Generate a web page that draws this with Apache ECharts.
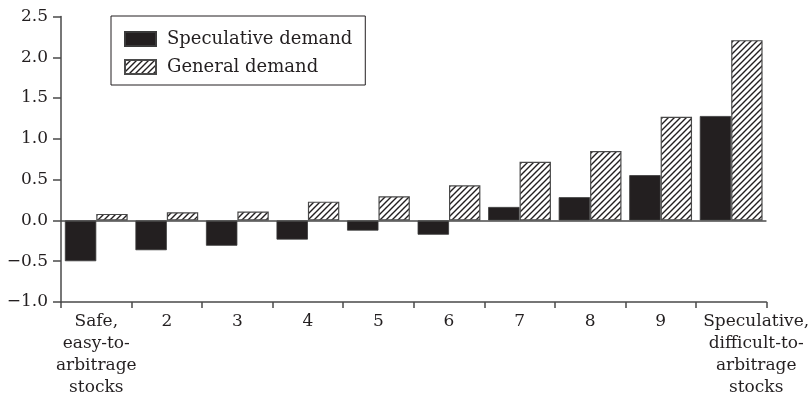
<!DOCTYPE html>
<html><head><meta charset="utf-8">
<script src="https://cdn.jsdelivr.net/npm/echarts@6/dist/echarts.min.js"></script>
<style>html,body{margin:0;padding:0;background:#fff}#c{width:812px;height:420px}</style>
</head><body><div id="c"></div>
<script>
const categories = ['Safe,\neasy-to-\narbitrage\nstocks', '2', '3', '4', '5', '6', '7', '8', '9', 'Speculative,\ndifficult-to-\narbitrage\nstocks'];
const speculativeDemand = [-0.50, -0.365, -0.31, -0.235, -0.125, -0.175, 0.165, 0.285, 0.555, 1.28];
const generalDemand = [0.08, 0.10, 0.11, 0.23, 0.295, 0.43, 0.72, 0.85, 1.27, 2.21];
const seriesNames = ['Speculative demand', 'General demand'];

const INK = '#231f20';
const AXIS = '#4a4a4a';
const FONT = 'DejaVu Serif';

function hatch() {
  const s = 6, c = document.createElement('canvas');
  c.width = s; c.height = s;
  const g = c.getContext('2d');
  g.fillStyle = '#fff'; g.fillRect(0, 0, s, s);
  g.strokeStyle = INK; g.lineWidth = 1.4;
  g.beginPath();
  g.moveTo(-1, s + 1); g.lineTo(s + 1, -1);
  g.moveTo(-1, 1); g.lineTo(1, -1);
  g.moveTo(s - 1, s + 1); g.lineTo(s + 1, s - 1);
  g.stroke();
  return { image: c, repeat: 'repeat' };
}

const xData = categories.map((c, i) => i === categories.length - 1
  ? { value: c, textStyle: { padding: [0, 0, 0, 50] } } : c);

const chart = echarts.init(document.getElementById('c'), null, { renderer: 'canvas' });
chart.setOption({
  animation: false,
  backgroundColor: '#fff',
  textStyle: { fontFamily: FONT, color: INK },
  grid: { left: 61, right: 42, top: 16.5, bottom: 118, containLabel: false },
  legend: {
    left: 111, top: 16, orient: 'vertical',
    borderColor: INK, borderWidth: 1, padding: [14, 13, 9, 13],
    itemWidth: 31, itemHeight: 14, itemGap: 10,
    icon: 'rect',
    textStyle: { fontFamily: FONT, fontSize: 18, color: INK, lineHeight: 18, padding: [0, 0, 0, 6] },
    data: seriesNames
  },
  xAxis: {
    type: 'category', data: xData,
    axisLine: { onZero: false, lineStyle: { color: AXIS, width: 1.5 } },
    axisTick: { show: true, length: 6, lineStyle: { color: AXIS, width: 1.5 } },
    axisLabel: { interval: 0, fontFamily: FONT, fontSize: 17, color: INK, lineHeight: 22, margin: 9 },
    splitLine: { show: false }
  },
  yAxis: {
    type: 'value', min: -1, max: 2.5, interval: 0.5,
    axisLine: { show: true, lineStyle: { color: AXIS, width: 1.5 } },
    axisTick: { show: true, length: 8, lineStyle: { color: AXIS, width: 1.5 } },
    axisLabel: { fontFamily: FONT, fontSize: 17, color: INK, margin: 13,
      formatter: v => v.toFixed(1).replace('-', '\u2212') },
    splitLine: { show: false }
  },
  series: [
    {
      name: seriesNames[0], type: 'bar', data: speculativeDemand,
      barGap: '0%', barCategoryGap: '11%',
      itemStyle: { color: INK, borderColor: '#3a3a3a', borderWidth: 0.8 },
      markLine: {
        silent: true, symbol: ['none', 'none'], label: { show: false },
        lineStyle: { color: AXIS, width: 1.5, type: 'solid' },
        data: [{ yAxis: 0 }]
      }
    },
    {
      name: seriesNames[1], type: 'bar', data: generalDemand,
      barGap: '0%', barCategoryGap: '11%',
      itemStyle: { color: hatch(), borderColor: '#4a4a4a', borderWidth: 1.2 }
    }
  ]
});
</script></body></html>
